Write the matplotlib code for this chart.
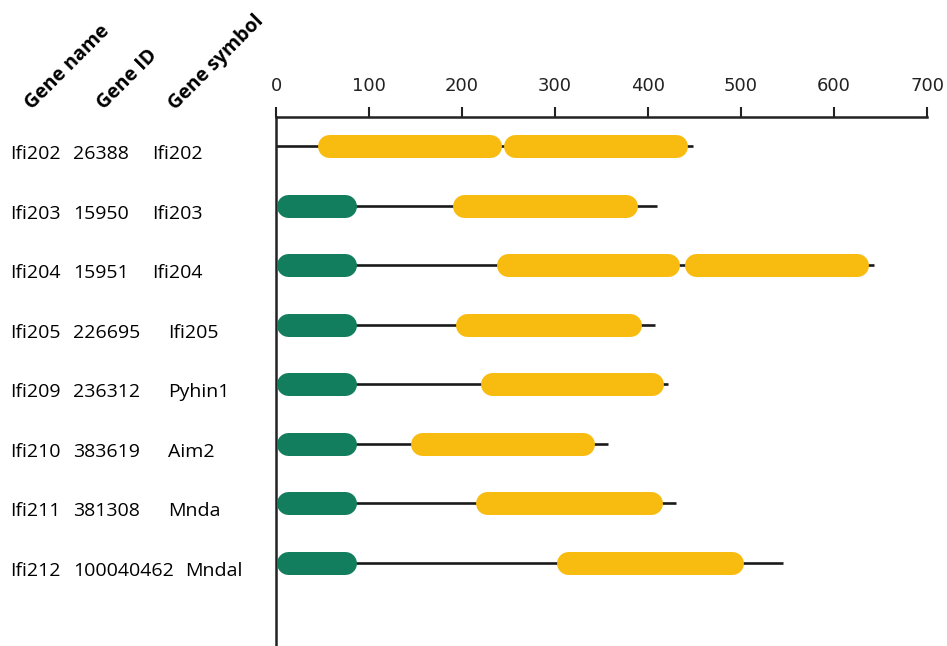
"""Ifi200 family domain architecture (PYD / HIN) drawn as capsules"""

import matplotlib
matplotlib.use("Agg")
import matplotlib.pyplot as plt
from matplotlib.transforms import blended_transform_factory

plt.rcParams["font.family"] = ["Open Sans", "DejaVu Sans"]

# data
gene_names = ["Ifi202", "Ifi203", "Ifi204", "Ifi205", "Ifi209", "Ifi210", "Ifi211", "Ifi212"]
gene_ids = ["26388", "15950", "15951", "226695", "236312", "383619", "381308", "100040462"]
gene_symbols = ["Ifi202", "Ifi203", "Ifi204", "Ifi205", "Pyhin1", "Aim2", "Mnda", "Mndal"]
protein_length = [448, 410, 643, 407, 422, 357, 430, 545]
# PYD domain (green), None where absent
pyd_domains = [None, (1, 87), (1, 87), (1, 87), (1, 87), (1, 87), (1, 87), (1, 87)]
# HIN domains (yellow)
hin_domains = [
    [(45, 243), (245, 442)],
    [(190, 389)],
    [(237, 434), (439, 637)],
    [(193, 393)],
    [(220, 417)],
    [(145, 342)],
    [(215, 416)],
    [(302, 503)],
]
xticks = [0, 100, 200, 300, 400, 500, 600, 700]

GREEN = "#127E5E"
YELLOW = "#F8BC10"
LINE = "#1a1a1a"

W, H = 947, 646
fig = plt.figure(figsize=(W / 100, H / 100), dpi=100)
ax = fig.add_axes([276 / W, 0, (927 - 276) / W, 1 - 117 / H])

n = len(gene_names)
row_px = 59.6
ax.set_xlim(0, 700)
ax.set_ylim(7 + 83 / row_px, -29 / row_px)

for s in ["right", "bottom"]:
    ax.spines[s].set_visible(False)
for s in ["top", "left"]:
    ax.spines[s].set_linewidth(1.8)
    ax.spines[s].set_color("#222222")

ax.xaxis.tick_top()
ax.set_xticks(xticks)
ax.tick_params(axis="x", direction="out", length=7, width=1.5, pad=9,
               labelsize=13, colors="#222222")
for lab in ax.get_xticklabels():
    lab.set_family("DejaVu Sans")
ax.set_yticks([])

cap_h = 23  # capsule height in px
cap_lw = cap_h * 72 / 100
px_per_unit = ax.transData.transform((1, 0))[0] - ax.transData.transform((0, 0))[0]
r = (cap_h / 2) / px_per_unit


def capsule(start, end, y, color):
    ax.plot([start + r, end - r], [y, y], color=color, lw=cap_lw,
            solid_capstyle="round", zorder=3)


for i in range(n):
    ax.plot([0, protein_length[i]], [i, i], color=LINE, lw=1.9,
            solid_capstyle="butt", zorder=2)
    if pyd_domains[i]:
        capsule(pyd_domains[i][0], pyd_domains[i][1], i, GREEN)
    for a, b in hin_domains[i]:
        capsule(a, b, i, YELLOW)

# left-hand gene table (baseline sits a little below the capsule centre)
tr = blended_transform_factory(fig.transFigure, ax.transData)
base = 13 / row_px
sym_x = [152, 152, 152, 168, 168, 168, 168, 185]
for i in range(n):
    ax.text(10 / W, i + base, gene_names[i], transform=tr, fontsize=14,
            va="baseline", ha="left")
    ax.text(73 / W, i + base, gene_ids[i], transform=tr, fontsize=14,
            va="baseline", ha="left")
    ax.text(sym_x[i] / W, i + base, gene_symbols[i], transform=tr, fontsize=14,
            va="baseline", ha="left")

headers = ["Gene name", "Gene ID", "Gene symbol"]
header_x = [32, 104, 175]
for h, x in zip(headers, header_x):
    fig.text(x / W, 1 - 110 / H, h, fontsize=14, fontweight="bold",
             rotation=45, rotation_mode="anchor", ha="left", va="baseline")

fig.savefig("out.png", dpi=100)
plt.close(fig)
